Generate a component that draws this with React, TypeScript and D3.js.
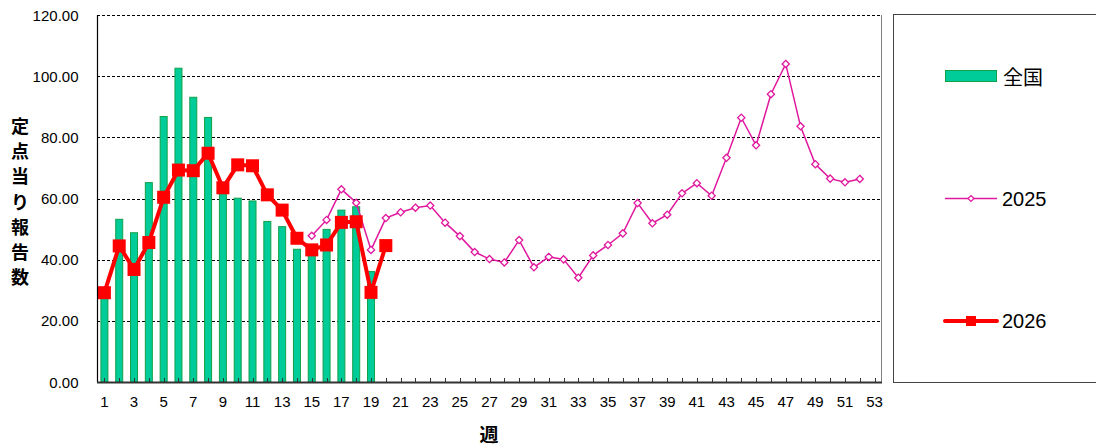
import React from "react";
import * as d3 from "d3";

const weeks: number[] = Array.from({ length: 53 }, (_, i) => i + 1);
const xTickLabels: number[] = [1, 3, 5, 7, 9, 11, 13, 15, 17, 19, 21, 23, 25, 27, 29, 31, 33, 35, 37, 39, 41, 43, 45, 47, 49, 51, 53];
const yTicks: number[] = [0, 20, 40, 60, 80, 100, 120];

const national: number[] = [30.5, 53.2, 48.8, 65.2, 86.8, 102.6, 93.1, 86.5, 62.0, 60.1, 59.2, 52.5, 50.8, 43.4, 42.0, 49.9, 56.2, 57.3, 36.1];
const y2026: number[] = [29.2, 44.5, 36.8, 45.6, 60.4, 69.3, 69.1, 74.8, 63.5, 71.0, 70.7, 61.2, 56.2, 47.0, 43.2, 44.8, 52.2, 52.4, 29.3, 44.6];
const start2025 = 15;
const y2025: number[] = [47.8, 53.0, 63.0, 58.6, 43.2, 53.6, 55.5, 57.0, 57.7, 52.1, 47.7, 42.5, 40.2, 39.1, 46.4, 37.5, 40.9, 40.1, 34.1, 41.4, 44.8, 48.6, 58.5, 51.9, 54.7, 61.7, 65.0, 60.9, 73.3, 86.4, 77.4, 94.1, 104.0, 83.6, 71.2, 66.5, 65.3, 66.4];

const yTitle = "定点当り報告数";

const W = 1096, H = 446;
const L = 97, T = 15, R = 882, B = 382;

export default function App() {
  const x = d3.scaleBand<number>().domain(weeks).range([L, R]).padding(0);
  const y = d3.scaleLinear().domain([0, 120]).range([B, T]);
  const cx = (w: number) => (x(w) as number) + x.bandwidth() / 2;
  const barW = 7;

  const line = d3.line<[number, number]>().x((d) => cx(d[0])).y((d) => y(d[1]));
  const pts2025: [number, number][] = y2025.map((v, i) => [start2025 + i, v]);
  const pts2026: [number, number][] = y2026.map((v, i) => [i + 1, v]);

  const diamond = (px: number, py: number, r: number) =>
    `M${px},${py - r}L${px + r},${py}L${px},${py + r}L${px - r},${py}Z`;

  const num = "'Liberation Sans', Arial, sans-serif";
  const cjk = "'Noto Sans CJK JP', 'Noto Sans', sans-serif";
  const pink = "#e0189e";
  const red = "#ff0000";

  return (
    <svg width={W} height={H} style={{ position: "absolute", left: 0, top: 0, background: "#fff" }}>
      {/* grid */}
      {yTicks.filter((t) => t > 0).map((t) => (
        <line key={t} x1={L} x2={R} y1={Math.round(y(t)) + 0.5} y2={Math.round(y(t)) + 0.5} stroke="#000" strokeWidth={1} strokeDasharray="3,2" />
      ))}
      {/* right border */}
      <line x1={R - 0.5} x2={R - 0.5} y1={T} y2={B} stroke="#808080" strokeWidth={1} />
      {/* bars */}
      {national.map((v, i) => (
        <rect key={i} x={cx(i + 1) - barW / 2} y={y(v)} width={barW} height={B - y(v)} fill="#00cc99" stroke="#11a04a" strokeWidth={1} />
      ))}
      {/* 2025 line */}
      <path d={line(pts2025) as string} fill="none" stroke={pink} strokeWidth={1.5} />
      {pts2025.map((p, i) => (
        <path key={i} d={diamond(cx(p[0]), y(p[1]), 3.6)} fill="#fff" stroke={pink} strokeWidth={1.3} />
      ))}
      {/* 2026 line */}
      <path d={line(pts2026) as string} fill="none" stroke={red} strokeWidth={4} strokeLinejoin="round" />
      {pts2026.map((p, i) => (
        <rect key={i} x={cx(p[0]) - 6.5} y={y(p[1]) - 6.5} width={13} height={13} fill={red} />
      ))}
      {/* axes */}
      <line x1={L + 0.5} x2={L + 0.5} y1={T} y2={B} stroke="#000" strokeWidth={1.2} />
      <line x1={L} x2={R} y1={B + 0.5} y2={B + 0.5} stroke="#333" strokeWidth={2} />
      {weeks.map((w) => (
        <line key={w} x1={Math.round(cx(w)) + 0.5} x2={Math.round(cx(w)) + 0.5} y1={B} y2={B - 4} stroke="#333" strokeWidth={1} />
      ))}
      {/* y tick labels */}
      {yTicks.map((t) => (
        <text key={t} x={78.5} y={y(t)} textAnchor="end" dominantBaseline="central" fontFamily={num} fontSize={15} fill="#000">
          {t.toFixed(2)}
        </text>
      ))}
      {/* x tick labels */}
      {xTickLabels.map((w) => (
        <text key={w} x={cx(w)} y={401} textAnchor="middle" dominantBaseline="central" fontFamily={num} fontSize={15} fill="#000">
          {w}
        </text>
      ))}
      {/* axis titles */}
      <text x={489} y={433} textAnchor="middle" dominantBaseline="central" fontFamily={cjk} fontSize={19} fontWeight="bold" fill="#000">週</text>
      {Array.from(yTitle).map((c, i) => (
        <text key={i} x={20} y={125 + i * 25.2} textAnchor="middle" dominantBaseline="central" fontFamily={cjk} fontSize={18} fontWeight="bold" fill="#000">
          {c}
        </text>
      ))}
      {/* legend */}
      <rect x={893.5} y={14.5} width={220} height={368} fill="none" stroke="#444" strokeWidth={1} />
      <rect x={945.5} y={70.5} width={51} height={11} fill="#00cc99" stroke="#11a04a" strokeWidth={1} />
      <text x={1003} y={76.5} dominantBaseline="central" fontFamily={cjk} fontSize={20} fill="#000">全国</text>
      <line x1={945} x2={997} y1={198.5} y2={198.5} stroke={pink} strokeWidth={1.5} />
      <path d={diamond(971, 198.5, 3)} fill="#fff" stroke={pink} strokeWidth={1.2} />
      <text x={1002} y={198.5} dominantBaseline="central" fontFamily={num} fontSize={20} fill="#000">2025</text>
      <line x1={945} x2={997} y1={321} y2={321} stroke={red} strokeWidth={4} strokeLinecap="round" />
      <rect x={966} y={316} width={10} height={10} fill={red} />
      <text x={1002} y={321} dominantBaseline="central" fontFamily={num} fontSize={20} fill="#000">2026</text>
    </svg>
  );
}
